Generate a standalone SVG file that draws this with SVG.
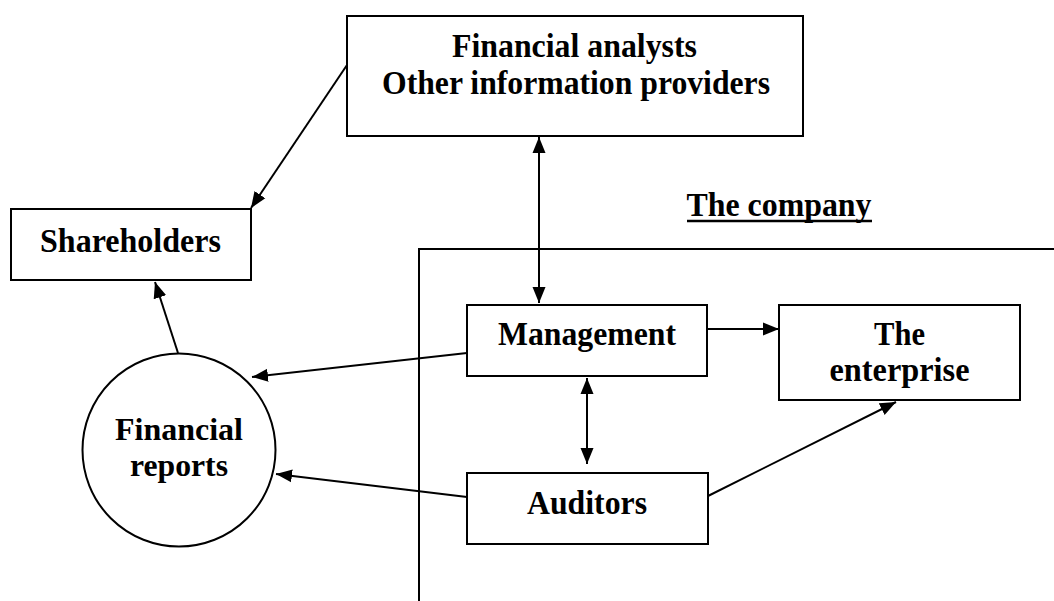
<svg xmlns="http://www.w3.org/2000/svg" width="1054" height="601" viewBox="0 0 1054 601">
<style>
.box{fill:#fff;stroke:#000;stroke-width:2}
.t{font-family:"Liberation Serif","Times New Roman",serif;font-weight:bold;font-size:34px;fill:#000;text-anchor:middle}
.s{font-size:32px}
.c{fill:none;stroke:#000;stroke-width:2}
</style>
<defs>
<marker id="ah" markerUnits="userSpaceOnUse" markerWidth="17" markerHeight="14" refX="16" refY="6.5" orient="auto-start-reverse" viewBox="0 0 17 13">
<path d="M0,0 L16,6.5 L0,13 z" fill="#000"/>
</marker>
</defs>
<rect width="1054" height="601" fill="#fff"/>
<g id="company-boundary">
<path class="c" d="M419,601 L419,249 L1054,249"/>
<text class="t" x="779" y="216" textLength="185" lengthAdjust="spacingAndGlyphs">The company</text>
<line x1="687" y1="221" x2="872" y2="221" stroke="#000" stroke-width="2.5"/>
</g>
<g id="connectors">
<line class="c" x1="347" y1="65" x2="251" y2="208" marker-end="url(#ah)"/>
<line class="c" x1="178" y1="353" x2="155" y2="282" marker-end="url(#ah)"/>
<line class="c" x1="467" y1="353" x2="252" y2="377" marker-end="url(#ah)"/>
<line class="c" x1="467" y1="497" x2="276" y2="474" marker-end="url(#ah)"/>
<line class="c" x1="539" y1="137" x2="539" y2="303" marker-start="url(#ah)" marker-end="url(#ah)"/>
<line class="c" x1="587" y1="378" x2="587" y2="464" marker-start="url(#ah)" marker-end="url(#ah)"/>
<line class="c" x1="707" y1="329" x2="779" y2="329" marker-end="url(#ah)"/>
<line class="c" x1="708" y1="496" x2="896" y2="402" marker-end="url(#ah)"/>
</g>
<g id="analysts">
<rect class="box" x="347" y="16" width="456" height="120"/>
<text class="t" x="574.5" y="57" textLength="245" lengthAdjust="spacingAndGlyphs">Financial analysts</text>
<text class="t" x="576" y="94" textLength="388" lengthAdjust="spacingAndGlyphs">Other information providers</text>
</g>
<g id="shareholders">
<rect class="box" x="11" y="209" width="240" height="71"/>
<text class="t" x="130.5" y="252" textLength="181" lengthAdjust="spacingAndGlyphs">Shareholders</text>
</g>
<g id="reports">
<circle class="box" cx="179" cy="450" r="96.5"/>
<text class="t s" x="179" y="440" textLength="128" lengthAdjust="spacingAndGlyphs">Financial</text>
<text class="t s" x="179" y="476" textLength="98" lengthAdjust="spacingAndGlyphs">reports</text>
</g>
<g id="management">
<rect class="box" x="467" y="305" width="240" height="71"/>
<text class="t" x="587" y="345" textLength="178" lengthAdjust="spacingAndGlyphs">Management</text>
</g>
<g id="auditors">
<rect class="box" x="467" y="473" width="241" height="71"/>
<text class="t" x="587" y="514" textLength="120" lengthAdjust="spacingAndGlyphs">Auditors</text>
</g>
<g id="enterprise">
<rect class="box" x="779" y="305" width="241" height="95"/>
<text class="t" x="899.5" y="345" textLength="51" lengthAdjust="spacingAndGlyphs">The</text>
<text class="t" x="899.5" y="381" textLength="140" lengthAdjust="spacingAndGlyphs">enterprise</text>
</g>
</svg>
